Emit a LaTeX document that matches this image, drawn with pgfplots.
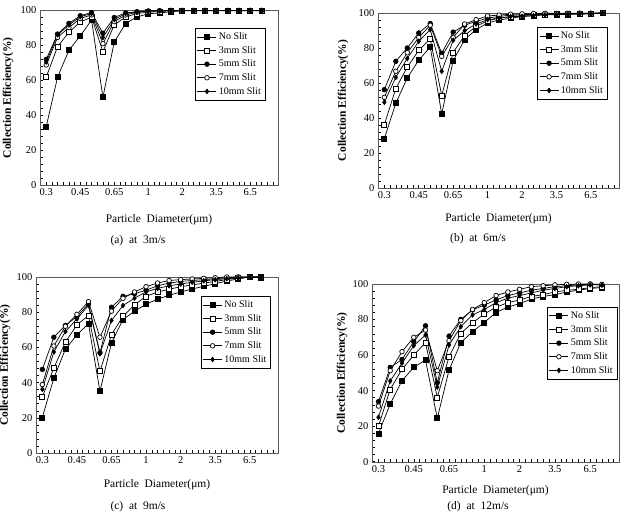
\documentclass[border=0pt]{standalone}
\usepackage{fontspec}
\setmainfont{Liberation Serif}
\usepackage{pgfplots}
\pgfplotsset{compat=1.18}
\usepackage{pgfplotstable}

\pgfplotstableread{
x no s3 s5 s7 s10
0 33.5 61.8 72.0 68.8 70.5
1 61.8 79.3 86.5 84.6 86.0
2 77.2 87.5 92.6 90.2 91.7
3 85.5 93.4 97.0 95.4 96.4
4 94.5 96.2 98.8 97.5 98.3
5 50.3 76.3 87.0 81.0 84.5
6 81.9 91.8 96.0 93.6 94.8
7 92.5 96.2 98.6 97.4 98.2
8 96.3 98.3 99.3 99.0 99.2
9 98.1 99.0 99.7 99.5 99.6
10 98.6 99.4 99.9 99.8 99.9
11 99.3 99.8 100 100 100
12 99.8 100 100 100 100
13 99.9 100 100 100 100
14 99.9 100 100 100 100
15 99.9 100 100 100 100
16 99.9 100 100 100 100
17 99.9 100 100 100 100
18 99.9 100 100 100 100
19 99.9 100 100 100 100
}\dataA

\pgfplotstableread{
x no s3 s5 s7 s10
0 28.2 36.2 56.2 51.8 49.0
1 48.4 56.8 72.4 66.7 63.2
2 62.9 69.0 80.0 77.3 74.0
3 73.0 78.7 88.6 86.0 83.8
4 80.6 85.1 94.0 93.0 90.5
5 42.3 52.8 77.0 75.2 66.7
6 72.8 77.5 89.1 86.0 84.4
7 84.8 87.2 93.0 93.7 89.9
8 90.5 92.4 95.2 96.2 93.7
9 94.3 95.6 97.1 98.3 96.2
10 96.0 97.0 98.0 98.8 97.0
11 97.0 98.0 98.8 99.3 98.0
12 98.0 98.5 99.0 99.5 98.0
13 98.5 99.0 99.3 99.7 98.5
14 99.0 99.2 99.5 99.8 99.0
15 99.0 99.4 99.6 99.8 99.3
16 99.2 99.5 99.7 99.9 99.5
17 99.3 99.6 99.8 99.9 99.6
18 99.4 99.7 99.8 99.9 99.7
19 100 100 100 100 100
}\dataB

\pgfplotstableread{
x no s3 s5 s7 s10
0 20.2 31.9 47.5 38.9 36.2
1 42.6 48.3 65.8 60.8 57.4
2 58.9 63.0 72.5 72.0 69.0
3 67.2 72.8 77.5 78.8 76.2
4 73.4 78.1 84.7 86.0 83.8
5 35.1 46.4 57.0 65.8 56.4
6 62.6 67.2 82.8 80.6 75.3
7 75.8 77.7 89.0 87.9 83.8
8 80.6 84.2 90.5 91.5 88.0
9 84.5 89.0 92.5 94.5 91.5
10 87.4 91.5 95.0 96.6 93.5
11 89.6 93.0 96.5 98.0 95.0
12 91.5 94.5 97.5 98.5 96.0
13 93.2 95.5 98.0 98.9 97.0
14 94.7 96.5 98.5 99.2 97.8
15 96.2 97.5 99.0 99.6 98.5
16 97.7 98.5 99.5 100 99.0
17 98.9 99.5 100 100 99.5
18 100 100 100 100 100
19 99.6 100 100 100 100
}\dataC

\pgfplotstableread{
x no s3 s5 s7 s10
0 15.9 20.0 33.8 31.3 25.0
1 32.5 40.7 53.1 51.2 45.4
2 45.6 52.0 57.5 61.9 55.5
3 53.1 60.0 67.5 70.0 65.3
4 57.2 67.0 76.5 74.1 71.3
5 24.4 36.2 44.5 51.2 42.0
6 51.6 59.1 70.7 68.1 65.7
7 67.0 72.2 80.1 79.4 76.0
8 73.2 78.2 85.4 85.7 82.6
9 78.4 83.1 88.2 89.5 85.7
10 84.0 87.0 91.0 93.5 89.5
11 87.0 89.5 93.5 95.5 92.0
12 89.0 91.0 95.0 97.0 93.5
13 91.5 93.0 96.5 98.5 95.0
14 93.0 94.0 97.5 99.0 96.5
15 94.0 95.5 98.5 99.5 97.5
16 95.5 96.5 99.0 99.8 98.5
17 96.5 97.0 99.5 100 99.0
18 97.5 98.0 100 100 99.5
19 98.0 98.5 99.5 99.8 99.5
}\dataD

\pgfplotsset{
  panel/.style={
    scale only axis, anchor=south west, clip=false,
    xmin=-0.55, xmax=20.45, ymin=0, ymax=100,
    xtick={0,3,6,9,12,15,18},
    xticklabels={0.3,0.45,0.65,1,2,3.5,6.5},
    minor xtick={-0.5,0,...,20},
    ytick={0,20,...,100},
    minor ytick={0,4,...,100},
    tick align=inside, tick pos=left,
    major tick length=3pt, minor tick length=3pt,
    axis line style={black!65},
    tick style={black, line width=0.5pt},
    ticklabel style={font=\fontsize{10.5}{12}\selectfont},
    /pgf/number format/assume math mode=true,
    xlabel={Particle\ \ Diameter(μm)},
    ylabel={\bfseries Collection Efficiency(\%)},
    label style={font=\fontsize{11.5}{13}\selectfont},
    legend style={draw=black, fill=white, font=\fontsize{10}{11}\selectfont,
      anchor=north west, row sep=1.2pt, inner xsep=2pt, inner ysep=2.5pt, cells={anchor=west}},
    legend image code/.code={\draw[mark repeat=2,mark phase=2,##1] plot coordinates {(0pt,0pt) (9.5pt,0pt) (19pt,0pt)};},
    every axis plot/.append style={black, line width=0.7pt, mark options={solid, line width=0.6pt}},
  },
  sno/.style={mark=square*, mark size=2.5pt, mark options={fill=black}},
  sthree/.style={mark=square*, mark size=2.5pt, mark options={fill=white}},
  sfive/.style={mark=*, mark size=2.3pt, mark options={fill=black}},
  sseven/.style={mark=*, mark size=2.3pt, mark options={fill=white}},
  sten/.style={mark=diamond*, mark size=2.3pt, mark options={fill=black}},
}

\newcommand{\allplots}[1]{%
  \addplot[sno] table[x=x,y=no] {#1};
  \addplot[sthree] table[x=x,y=s3] {#1};
  \addplot[sfive] table[x=x,y=s5] {#1};
  \addplot[sseven] table[x=x,y=s7] {#1};
  \addplot[sten] table[x=x,y=s10] {#1};
  \legend{No Slit,3mm Slit,5mm Slit,7mm Slit,10mm Slit}
}

\begin{document}
\begin{tikzpicture}
\path[use as bounding box] (0pt,0pt) rectangle (628pt,527pt);

\begin{axis}[panel, at={(40pt,342pt)}, width=238pt, height=174.5pt,
  xlabel style={at={(axis description cs:0.5,-0.2)}, anchor=center},
  ylabel style={at={(axis description cs:-0.134,0.5)}, anchor=center},
  legend style={at={(axis description cs:0.651,0.9)}}]
\allplots{\dataA}
\end{axis}

\begin{axis}[panel, at={(378pt,339pt)}, width=241pt, height=175pt,
  xlabel style={at={(axis description cs:0.5,-0.177)}, anchor=center},
  ylabel style={at={(axis description cs:-0.145,0.5)}, anchor=center},
  legend style={at={(axis description cs:0.66,0.92)}}]
\allplots{\dataB}
\end{axis}

\begin{axis}[panel, at={(36pt,74pt)}, width=242pt, height=176pt,
  xlabel style={at={(axis description cs:0.5,-0.182)}, anchor=center},
  ylabel style={at={(axis description cs:-0.128,0.5)}, anchor=center},
  legend style={at={(axis description cs:0.68,0.892)}}]
\allplots{\dataC}
\end{axis}

\begin{axis}[panel, at={(372pt,65.3pt)}, width=247pt, height=177.7pt,
  xlabel style={at={(axis description cs:0.5,-0.163)}, anchor=center},
  ylabel style={at={(axis description cs:-0.121,0.5)}, anchor=center},
  legend style={at={(axis description cs:0.708,0.871)}}]
\allplots{\dataD}
\end{axis}

\begin{scope}[every node/.style={font=\fontsize{11.5}{13}\selectfont}]
\node at (138pt,286pt) {(a)~~at~~3m/s};
\node at (478pt,288pt) {(b)~~at~~6m/s};
\node at (138pt,20pt) {(c)~~at~~9m/s};
\node at (478pt,20pt) {(d)~~at~~12m/s};
\end{scope}
\end{tikzpicture}
\end{document}
